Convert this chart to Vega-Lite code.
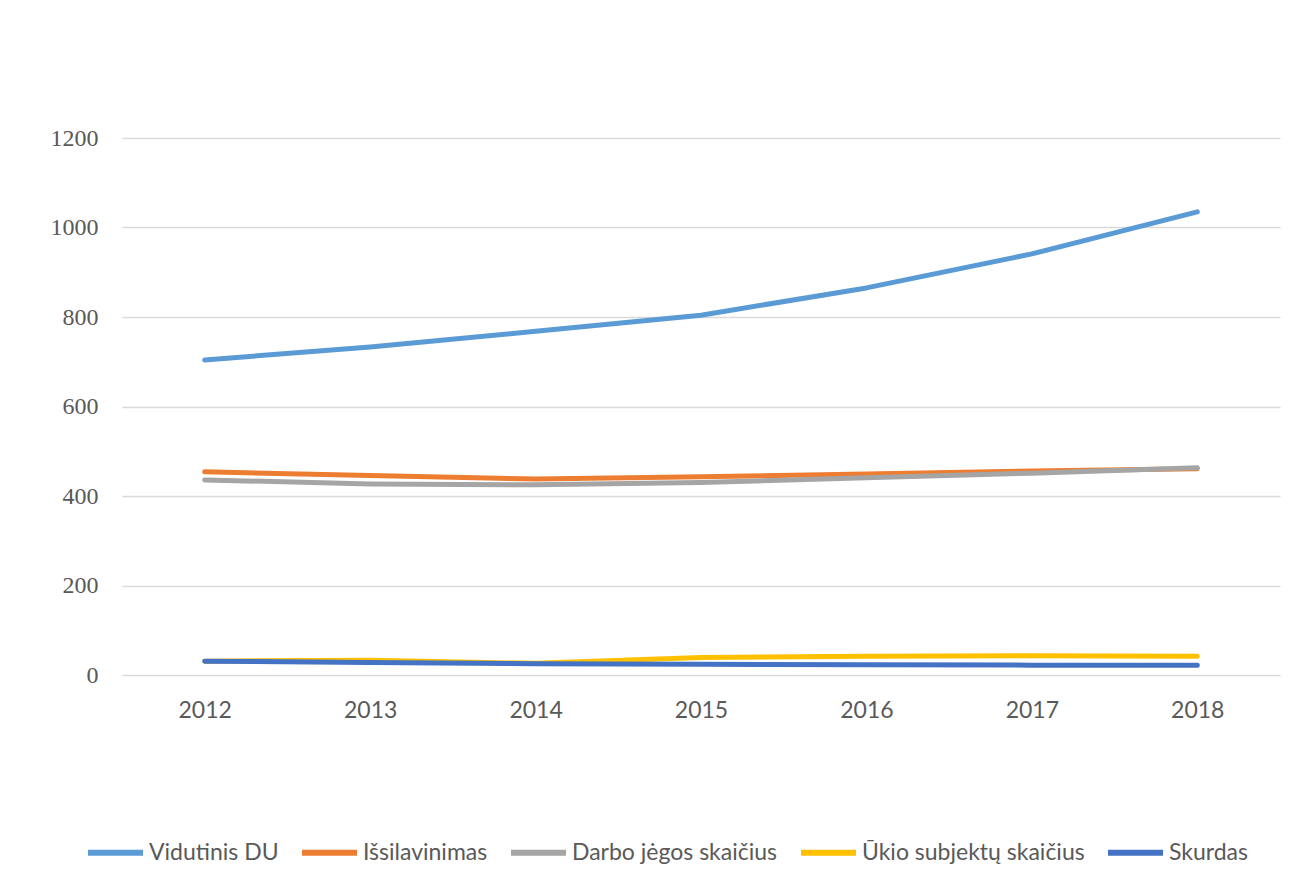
{
  "$schema": "https://vega.github.io/schema/vega-lite/v6.json",
  "width": 1158,
  "height": 537,
  "padding": {"left": 122, "top": 138, "right": 36, "bottom": 209},
  "autosize": {"type": "none"},
  "background": "white",
  "config": {"view": {"stroke": null}},
  "data": {
    "values": [
      {"year": "2012", "series": "Vidutinis DU", "value": 704},
      {"year": "2013", "series": "Vidutinis DU", "value": 733},
      {"year": "2014", "series": "Vidutinis DU", "value": 768},
      {"year": "2015", "series": "Vidutinis DU", "value": 804},
      {"year": "2016", "series": "Vidutinis DU", "value": 865},
      {"year": "2017", "series": "Vidutinis DU", "value": 941},
      {"year": "2018", "series": "Vidutinis DU", "value": 1035},
      {"year": "2012", "series": "Išsilavinimas", "value": 454},
      {"year": "2013", "series": "Išsilavinimas", "value": 446},
      {"year": "2014", "series": "Išsilavinimas", "value": 438},
      {"year": "2015", "series": "Išsilavinimas", "value": 443},
      {"year": "2016", "series": "Išsilavinimas", "value": 449},
      {"year": "2017", "series": "Išsilavinimas", "value": 456},
      {"year": "2018", "series": "Išsilavinimas", "value": 461},
      {"year": "2012", "series": "Darbo jėgos skaičius", "value": 436},
      {"year": "2013", "series": "Darbo jėgos skaičius", "value": 427},
      {"year": "2014", "series": "Darbo jėgos skaičius", "value": 425},
      {"year": "2015", "series": "Darbo jėgos skaičius", "value": 430},
      {"year": "2016", "series": "Darbo jėgos skaičius", "value": 441},
      {"year": "2017", "series": "Darbo jėgos skaičius", "value": 451},
      {"year": "2018", "series": "Darbo jėgos skaičius", "value": 463},
      {"year": "2012", "series": "Ūkio subjektų skaičius", "value": 31},
      {"year": "2013", "series": "Ūkio subjektų skaičius", "value": 33},
      {"year": "2014", "series": "Ūkio subjektų skaičius", "value": 26},
      {"year": "2015", "series": "Ūkio subjektų skaičius", "value": 39},
      {"year": "2016", "series": "Ūkio subjektų skaičius", "value": 42},
      {"year": "2017", "series": "Ūkio subjektų skaičius", "value": 43},
      {"year": "2018", "series": "Ūkio subjektų skaičius", "value": 42},
      {"year": "2012", "series": "Skurdas", "value": 31},
      {"year": "2013", "series": "Skurdas", "value": 28},
      {"year": "2014", "series": "Skurdas", "value": 25},
      {"year": "2015", "series": "Skurdas", "value": 24},
      {"year": "2016", "series": "Skurdas", "value": 23},
      {"year": "2017", "series": "Skurdas", "value": 22},
      {"year": "2018", "series": "Skurdas", "value": 22}
    ]
  },
  "mark": {"type": "line", "strokeWidth": 5, "strokeCap": "round", "strokeJoin": "round"},
  "encoding": {
    "x": {
      "field": "year", "type": "ordinal",
      "scale": {"type": "point", "padding": 0.5},
      "axis": {
        "title": null, "labelAngle": 0, "ticks": false, "domain": false,
        "labelFont": "Lato", "labelFontSize": 23, "labelColor": "#595959", "labelPadding": 24
      }
    },
    "y": {
      "field": "value", "type": "quantitative",
      "scale": {"domain": [0, 1200], "nice": false},
      "axis": {
        "title": null, "values": [0, 200, 400, 600, 800, 1000, 1200], "format": "d",
        "ticks": false, "domain": false, "labelPadding": 24,
        "labelFont": "Liberation Serif", "labelFontSize": 24, "labelColor": "#595959",
        "gridColor": "#d9d9d9", "gridWidth": 1.3
      }
    },
    "color": {
      "field": "series", "type": "nominal",
      "scale": {
        "domain": ["Vidutinis DU", "Išsilavinimas", "Darbo jėgos skaičius", "Ūkio subjektų skaičius", "Skurdas"],
        "range": ["#5B9BD5", "#ED7D31", "#A5A5A5", "#FFC000", "#4472C4"]
      },
      "legend": {
        "title": null, "orient": "none", "direction": "horizontal",
        "legendX": -37, "legendY": 684,
        "symbolType": "stroke", "symbolSize": 3025, "symbolStrokeWidth": 6,
        "labelFont": "Lato", "labelFontSize": 23, "labelColor": "#595959", "labelLimit": 400,
        "labelOffset": 3, "columnPadding": 11
      }
    },
    "order": {"field": "series"}
  }
}
